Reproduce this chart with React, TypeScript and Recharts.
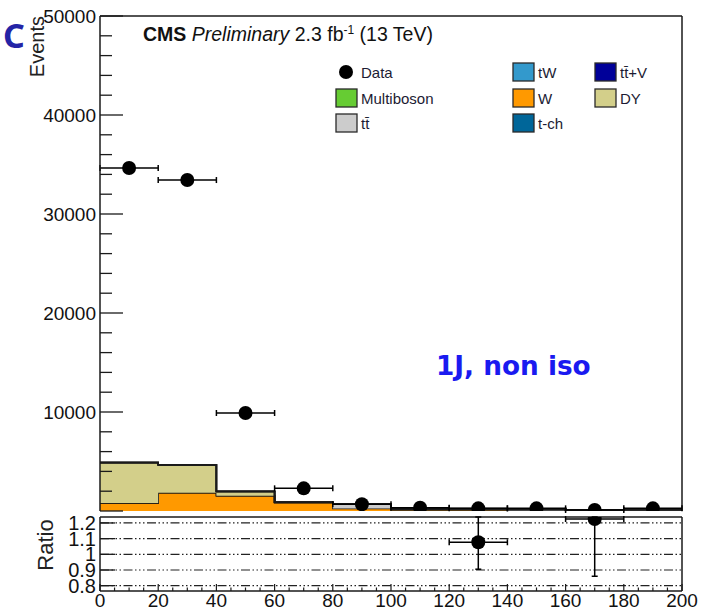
import {
  Area,
  ComposedChart,
  ErrorBar,
  Legend,
  ReferenceLine,
  Scatter,
  XAxis,
  YAxis,
} from 'recharts'

// histogram binning (20 GeV bins from 0 to 200)
const binEdges = [0, 20, 40, 60, 80, 100, 120, 140, 160, 180, 200]

// stacked simulation, events per bin
const wEvents = [800, 1850, 1550, 840, 250, 90, 90, 70, 30, 50]
const ttEvents = [0, 0, 0, 20, 420, 100, 140, 120, 40, 90]
const dyEvents = [4080, 2800, 420, 20, 10, 5, 5, 5, 5, 5]
const multibosonEvents = [10, 8, 5, 2, 1, 1, 1, 1, 1, 1]
const tWEvents = [5, 5, 3, 2, 2, 2, 2, 2, 2, 2]
const ttVEvents = [2, 2, 1, 1, 1, 1, 1, 1, 1, 1]
const tchEvents = [6, 5, 4, 3, 2, 2, 2, 2, 2, 2]

// observed data
const dataCenters = [10, 30, 50, 70, 90, 110, 130, 150, 170, 190]
const dataEvents = [34650, 33430, 9900, 2290, 680, 330, 270, 270, 100, 270]

// data / MC ratio points that fall inside the ratio window
const ratioCenters = [130, 170]
const ratioValues = [1.077, 1.225]
const ratioErrDown = [0.172, 0.365]
const ratioErrUp = [0.161, 0.013]

const eventTicks = [
  0, 2000, 4000, 6000, 8000, 10000, 12000, 14000, 16000, 18000, 20000, 22000, 24000, 26000,
  28000, 30000, 32000, 34000, 36000, 38000, 40000, 42000, 44000, 46000, 48000, 50000,
]
const xTicks = [
  0, 5, 10, 15, 20, 25, 30, 35, 40, 45, 50, 55, 60, 65, 70, 75, 80, 85, 90, 95, 100, 105, 110,
  115, 120, 125, 130, 135, 140, 145, 150, 155, 160, 165, 170, 175, 180, 185, 190, 195, 200,
]
const ratioTicks = [0.8, 0.9, 1, 1.1, 1.2]
const ratioTickLabels = ['0.8', '0.9', '1', '1.1', '1.2']

const legendItems = [
  { name: 'Data', color: '#000000', marker: true, col: 0, row: 0 },
  { name: 'Multiboson', color: '#66cc33', marker: false, col: 0, row: 1 },
  { name: 'tt\u0304', color: '#cccccc', marker: false, col: 0, row: 2 },
  { name: 'tW', color: '#3399cc', marker: false, col: 1, row: 0 },
  { name: 'W', color: '#ff9900', marker: false, col: 1, row: 1 },
  { name: 't-ch', color: '#006699', marker: false, col: 1, row: 2 },
  { name: 'tt\u0304+V', color: '#000099', marker: false, col: 2, row: 0 },
  { name: 'DY', color: '#d3cf8a', marker: false, col: 2, row: 1 },
]

const stackLayers = [
  { key: 'w', color: '#ff9900' },
  { key: 'tt', color: '#cccccc' },
  { key: 'dy', color: '#d3cf8a' },
  { key: 'multiboson', color: '#66cc33' },
  { key: 'tW', color: '#3399cc' },
  { key: 'ttV', color: '#000099' },
  { key: 'tch', color: '#006699' },
]

const nBins = binEdges.length - 1
// the last edge repeats the last bin so the step closes at 200
const stackRows = binEdges.map((x, i) => {
  const b = Math.min(i, nBins - 1)
  return {
    x,
    w: wEvents[b],
    tt: ttEvents[b],
    dy: dyEvents[b],
    multiboson: multibosonEvents[b],
    tW: tWEvents[b],
    ttV: ttVEvents[b],
    tch: tchEvents[b],
  }
})

const dataPoints = dataCenters.map((x, i) => ({ x, y: dataEvents[i], xe: 10 }))
const ratioPoints = ratioCenters.map((x, i) => ({
  x,
  y: ratioValues[i],
  xe: 10,
  ye: [ratioErrDown[i], ratioErrUp[i]],
}))

const FONT = '"Liberation Sans", Arial, sans-serif'
const INK = '#111111'
const LINE = '#1a1a1a'

const EventsTick = (props: any) => {
  const { x, y, payload } = props
  const major = payload.value % 10000 === 0
  return (
    <g>
      <line x1={x} x2={x + (major ? 23 : 12)} y1={y} y2={y} stroke={LINE} strokeWidth={1.3} />
      {major && payload.value > 0 && (
        <text x={x - 4} y={y + 7} textAnchor="end" fontSize={19} fontFamily={FONT} fill={INK}>
          {payload.value}
        </text>
      )}
    </g>
  )
}

const MainXTick = (props: any) => {
  const { x, y, payload } = props
  const major = payload.value % 20 === 0
  return <line x1={x} x2={x} y1={y} y2={y - (major ? 12 : 6)} stroke={LINE} strokeWidth={1.2} />
}

const RatioYTick = (props: any) => {
  const { x, y, payload } = props
  const idx = ratioTicks.indexOf(payload.value)
  return (
    <g>
      <line x1={x} x2={x + 15} y1={y} y2={y} stroke={LINE} strokeWidth={1.3} />
      <text x={x - 4} y={y + 7} textAnchor="end" fontSize={20} fontFamily={FONT} fill={INK}>
        {ratioTickLabels[idx]}
      </text>
    </g>
  )
}

const RatioXTick = (props: any) => {
  const { x, y, payload } = props
  const major = payload.value % 20 === 0
  return (
    <g>
      <line x1={x} x2={x} y1={y} y2={y - (major ? 7 : 3.5)} stroke={LINE} strokeWidth={1.2} />
      {major && (
        <text x={x} y={y + 16} textAnchor="middle" fontSize={19} fontFamily={FONT} fill={INK}>
          {payload.value}
        </text>
      )}
    </g>
  )
}

const dataMarker = (props: any) => <circle cx={props.cx} cy={props.cy} r={7} fill="#000" />

const legendCols = [336, 513, 595]
const legendRows = [72, 98, 123]

const renderLegend = () => (
  <svg width={711} height={150}>
    {legendItems.map((item) => {
      const left = legendCols[item.col]
      const cy = legendRows[item.row]
      return (
        <g key={item.name}>
          {item.marker ? (
            <circle cx={left + 10} cy={cy} r={7} fill="#000" />
          ) : (
            <rect
              x={left}
              y={cy - 9}
              width={21}
              height={18}
              fill={item.color}
              stroke="#2a2a2a"
              strokeWidth={1.3}
            />
          )}
          <text x={left + 25} y={cy + 5.5} fontSize={15} fontFamily={FONT} fill="#1b1b33">
            {item.name}
          </text>
        </g>
      )
    })}
  </svg>
)

export default function App() {
  return (
    <div
      style={{
        position: 'absolute',
        left: 0,
        top: 0,
        width: 711,
        height: 610,
        background: '#fff',
        overflow: 'hidden',
      }}
    >
      <div style={{ position: 'absolute', left: 0, top: 0 }}>
        <ComposedChart
          width={711}
          height={520}
          data={stackRows}
          margin={{ top: 16, right: 29, bottom: 9, left: 0 }}
        >
          <XAxis
            dataKey="x"
            type="number"
            domain={[0, 200]}
            allowDataOverflow
            ticks={xTicks}
            interval={0}
            height={0}
            tickSize={0}
            tickMargin={0}
            tick={<MainXTick />}
            axisLine={{ stroke: LINE, strokeWidth: 1.5 }}
            tickLine={false}
          />
          <YAxis
            type="number"
            domain={[0, 50000]}
            allowDataOverflow
            ticks={eventTicks}
            interval={0}
            width={100}
            tickSize={0}
            tickMargin={0}
            tick={<EventsTick />}
            axisLine={{ stroke: LINE, strokeWidth: 1.5 }}
            tickLine={false}
          />
          {stackLayers.map((layer) => (
            <Area
              key={layer.key}
              dataKey={layer.key}
              stackId="mc"
              type="stepAfter"
              fill={layer.color}
              fillOpacity={1}
              stroke={LINE}
              strokeWidth={1.5}
              dot={false}
              activeDot={false}
              isAnimationActive={false}
            />
          ))}
          <ReferenceLine y={50000} stroke={LINE} strokeWidth={1.5} />
          <ReferenceLine x={200} stroke={LINE} strokeWidth={1.5} />
          <Scatter data={dataPoints} dataKey="y" shape={dataMarker} isAnimationActive={false}>
            <ErrorBar dataKey="xe" direction="x" width={3} stroke="#000" strokeWidth={1.5} />
          </Scatter>
          <Legend
            verticalAlign="middle"
            layout="horizontal"
            content={renderLegend}
            wrapperStyle={{ left: 0, top: 0, width: 711, height: 150 }}
          />
        </ComposedChart>
      </div>

      <div style={{ position: 'absolute', left: 0, top: 500 }}>
        <ComposedChart
          width={711}
          height={110}
          data={ratioPoints}
          margin={{ top: 17, right: 29, bottom: 0, left: 0 }}
        >
          <XAxis
            dataKey="x"
            type="number"
            domain={[0, 200]}
            allowDataOverflow
            ticks={xTicks}
            interval={0}
            height={19}
            tickSize={0}
            tickMargin={0}
            tick={<RatioXTick />}
            axisLine={{ stroke: LINE, strokeWidth: 1.5 }}
            tickLine={false}
          />
          <YAxis
            type="number"
            domain={[0.766, 1.238]}
            allowDataOverflow
            ticks={ratioTicks}
            interval={0}
            width={100}
            tickSize={0}
            tickMargin={0}
            tick={<RatioYTick />}
            axisLine={{ stroke: LINE, strokeWidth: 1.5 }}
            tickLine={false}
          />
          {ratioTicks.map((v) => (
            <ReferenceLine
              key={v}
              y={v}
              stroke="#222"
              strokeWidth={1.2}
              strokeDasharray="9 2.5 1.5 2.5 1.5 2.5 1.5 2.5"
            />
          ))}
          <ReferenceLine y={1.238} stroke={LINE} strokeWidth={1.5} />
          <ReferenceLine x={200} stroke={LINE} strokeWidth={1.5} />
          <Scatter data={ratioPoints} dataKey="y" shape={dataMarker} isAnimationActive={false}>
            <ErrorBar dataKey="xe" direction="x" width={3} stroke="#000" strokeWidth={1.5} />
            <ErrorBar dataKey="ye" direction="y" width={3} stroke="#000" strokeWidth={1.5} />
          </Scatter>
        </ComposedChart>
      </div>

      <svg
        width={711}
        height={610}
        style={{ position: 'absolute', left: 0, top: 0, pointerEvents: 'none' }}
      >
        <text x={3} y={48} fontSize={34} fontWeight={700} fontFamily='"Noto Sans", sans-serif' fill="#2424a6">
          C
        </text>
        <text
          transform="translate(44,16) rotate(-90)"
          textAnchor="end"
          fontSize={20}
          fontFamily={FONT}
          fill="#222"
        >
          Events
        </text>
        <text
          transform="translate(53,545) rotate(-90)"
          textAnchor="middle"
          fontSize={22}
          fontFamily={FONT}
          fill="#222"
        >
          Ratio
        </text>
        <text x={143} y={41} fontSize={19.5} fontFamily={FONT} fill={INK}>
          <tspan fontWeight={700}>CMS</tspan>
          <tspan fontStyle="italic"> Preliminary</tspan>
          <tspan> 2.3 fb</tspan>
          <tspan fontSize={12} dy={-7}>-1</tspan>
          <tspan dy={7}> (13 TeV)</tspan>
        </text>
        <text
          x={436}
          y={375}
          fontSize={26.3}
          fontWeight={700}
          fontFamily='"DejaVu Sans", sans-serif'
          fill="#1a1af0"
        >
          1J, non iso
        </text>
      </svg>
    </div>
  )
}
